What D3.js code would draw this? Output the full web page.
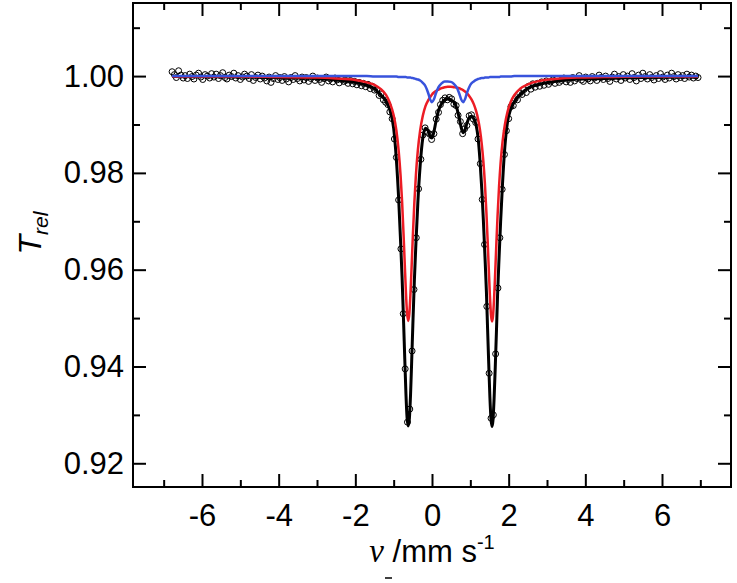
<!DOCTYPE html>
<html>
<head>
<meta charset="utf-8">
<script src="https://cdn.jsdelivr.net/npm/d3@7"></script>
<style>
  body { margin: 0; background: #fff; }
  text { font-family: "Liberation Sans", Arial, sans-serif; fill: #000; }
</style>
</head>
<body>
<div id="chart-area"></div>
<script>
// measured spectrum: velocity (mm/s) and relative transmission
var velocity = [
  -6.78,-6.72,-6.67,-6.61,-6.55,-6.49,-6.44,-6.38,-6.32,-6.26,
  -6.21,-6.15,-6.09,-6.03,-5.98,-5.92,-5.86,-5.80,-5.75,-5.69,
  -5.63,-5.57,-5.52,-5.46,-5.40,-5.35,-5.29,-5.23,-5.17,-5.12,
  -5.06,-5.00,-4.94,-4.89,-4.83,-4.77,-4.71,-4.66,-4.60,-4.54,
  -4.48,-4.43,-4.37,-4.31,-4.25,-4.20,-4.14,-4.08,-4.02,-3.97,
  -3.91,-3.85,-3.80,-3.74,-3.68,-3.62,-3.57,-3.51,-3.45,-3.39,
  -3.34,-3.28,-3.22,-3.16,-3.11,-3.05,-2.99,-2.93,-2.88,-2.82,
  -2.76,-2.70,-2.65,-2.59,-2.53,-2.48,-2.42,-2.36,-2.30,-2.25,
  -2.19,-2.13,-2.07,-2.02,-1.96,-1.90,-1.84,-1.79,-1.73,-1.67,
  -1.61,-1.56,-1.50,-1.44,-1.38,-1.33,-1.27,-1.21,-1.15,-1.10,
  -1.04,-0.98,-0.93,-0.87,-0.81,-0.75,-0.70,-0.64,-0.58,-0.52,
  -0.47,-0.41,-0.35,-0.29,-0.24,-0.18,-0.12,-0.06,-0.01,0.05,
  0.11,0.17,0.22,0.28,0.34,0.40,0.45,0.51,0.57,0.63,
  0.68,0.74,0.80,0.85,0.91,0.97,1.03,1.08,1.14,1.20,
  1.26,1.31,1.37,1.43,1.49,1.54,1.60,1.66,1.72,1.77,
  1.83,1.89,1.94,2.00,2.06,2.12,2.17,2.23,2.29,2.35,
  2.40,2.46,2.52,2.58,2.63,2.69,2.75,2.81,2.86,2.92,
  2.98,3.04,3.09,3.15,3.21,3.27,3.32,3.38,3.44,3.50,
  3.55,3.61,3.67,3.72,3.78,3.84,3.90,3.95,4.01,4.07,
  4.13,4.18,4.24,4.30,4.36,4.41,4.47,4.53,4.59,4.64,
  4.70,4.76,4.81,4.87,4.93,4.99,5.04,5.10,5.16,5.22,
  5.27,5.33,5.39,5.45,5.50,5.56,5.62,5.68,5.73,5.79,
  5.85,5.91,5.96,6.02,6.08,6.14,6.19,6.25,6.31,6.37,
  6.42,6.48,6.54,6.59,6.65,6.71,6.77,6.82,6.88,6.94
];
var transmission = [
  1.0009,1.0003,0.9997,1.0011,1.0002,0.9996,1.0001,0.9995,1.0004,0.9999,
  0.9994,1.0002,1.0006,0.9998,0.9993,1.0003,1.0000,0.9996,1.0005,0.9998,
  1.0004,0.9995,1.0001,1.0007,0.9997,0.9994,1.0002,0.9999,1.0006,0.9996,
  1.0001,0.9993,0.9998,1.0004,1.0000,0.9995,1.0003,0.9991,0.9997,1.0002,
  0.9994,1.0000,0.9996,0.9990,0.9998,0.9987,0.9995,1.0001,0.9993,0.9997,
  0.9991,0.9999,0.9994,0.9988,0.9997,0.9993,1.0001,0.9995,0.9990,0.9998,
  0.9992,0.9997,0.9989,0.9995,1.0000,0.9991,0.9996,0.9993,0.9987,0.9995,
  0.9998,0.9990,0.9994,0.9988,0.9996,0.9992,0.9986,0.9993,0.9989,0.9991,
  0.9985,0.9991,0.9984,0.9989,0.9982,0.9987,0.9980,0.9985,0.9978,0.9983,
  0.9974,0.9979,0.9971,0.9972,0.9960,0.9963,0.9951,0.9946,0.9941,0.9926,
  0.9912,0.9870,0.9832,0.9744,0.9643,0.9509,0.9395,0.9285,0.9312,0.9432,
  0.9559,0.9666,0.9767,0.9828,0.9878,0.9893,0.9884,0.9880,0.9869,0.9881,
  0.9911,0.9925,0.9941,0.9950,0.9955,0.9951,0.9956,0.9953,0.9942,0.9939,
  0.9919,0.9906,0.9881,0.9891,0.9898,0.9918,0.9920,0.9911,0.9904,0.9870,
  0.9819,0.9745,0.9652,0.9524,0.9386,0.9293,0.9300,0.9426,0.9562,0.9666,
  0.9766,0.9838,0.9887,0.9912,0.9937,0.9939,0.9953,0.9951,0.9964,0.9962,
  0.9972,0.9966,0.9979,0.9973,0.9984,0.9977,0.9985,0.9979,0.9988,0.9981,
  0.9990,0.9983,0.9988,0.9992,0.9985,0.9994,0.9987,0.9991,0.9996,0.9988,
  0.9993,0.9987,0.9997,0.9990,0.9995,1.0001,0.9992,0.9989,0.9998,0.9994,
  0.9990,0.9999,0.9996,0.9991,1.0002,0.9997,0.9993,1.0000,0.9995,0.9989,
  0.9998,1.0004,0.9994,0.9999,0.9991,1.0003,0.9996,1.0000,0.9993,1.0005,
  0.9997,0.9990,1.0002,0.9995,1.0006,0.9999,0.9994,1.0003,0.9997,0.9992,
  1.0001,0.9995,1.0005,0.9998,0.9993,1.0002,0.9996,1.0006,0.9999,0.9994,
  1.0003,0.9997,1.0001,0.9995,1.0004,0.9998,1.0002,0.9996,1.0000,0.9997
];

var fitVelocity = [
  -6.78,-5,-4,-3,-2.5,-2,-1.7,-1.5,-1.35,-1.2,
  -1.1,-1.0,-0.93,-0.87,-0.82,-0.78,-0.74,-0.71,-0.68,-0.65,
  -0.62,-0.59,-0.56,-0.53,-0.5,-0.46,-0.42,-0.37,-0.31,-0.24,
  -0.17,-0.1,-0.05,0,0.05,0.1,0.17,0.25,0.33,0.41,
  0.49,0.57,0.65,0.71,0.76,0.81,0.86,0.91,0.97,1.03,
  1.09,1.15,1.2,1.25,1.3,1.34,1.38,1.42,1.45,1.48,
  1.51,1.54,1.567,1.59,1.62,1.65,1.68,1.71,1.75,1.79,
  1.84,1.9,1.97,2.05,2.15,2.3,2.5,2.8,3.2,3.8,
  4.5,5.5,6.94
];
var fitTotal = [
  0.9999,0.9998,0.9997,0.9995,0.9992,0.9987,0.9981,0.9974,0.9962,0.9948,
  0.9930,0.9892,0.9828,0.9747,0.9659,0.9583,0.9489,0.9415,0.9344,0.9294,
  0.9277,0.9292,0.9341,0.9411,0.9485,0.9578,0.9653,0.9737,0.9814,0.9872,
  0.9892,0.9887,0.9875,0.9872,0.9885,0.9905,0.9929,0.9943,0.9951,0.9953,
  0.9951,0.9946,0.9933,0.9913,0.9894,0.9883,0.9889,0.9902,0.9914,0.9917,
  0.9912,0.9899,0.9874,0.9828,0.9765,0.9702,0.9630,0.9553,0.9478,0.9406,
  0.9337,0.9290,0.9276,0.9288,0.9334,0.9398,0.9470,0.9546,0.9626,0.9699,
  0.9778,0.9853,0.9905,0.9931,0.9947,0.9962,0.9975,0.9983,0.9989,0.9994,
  0.9995,0.9997,0.9998
];
var fitDoublet1 = [
  0.9999,0.9999,0.9998,0.9997,0.9995,0.9992,0.9987,0.9982,0.9974,0.9961,
  0.9945,0.9919,0.9888,0.9846,0.9795,0.9740,0.9669,0.9610,0.9553,0.9510,
  0.9494,0.9510,0.9553,0.9610,0.9669,0.9739,0.9795,0.9846,0.9887,0.9918,
  0.9938,0.9950,0.9956,0.9962,0.9966,0.9969,0.9972,0.9975,0.9977,0.9978,
  0.9978,0.9977,0.9976,0.9975,0.9973,0.9971,0.9968,0.9965,0.9959,0.9952,
  0.9942,0.9928,0.9912,0.9890,0.9858,0.9824,0.9778,0.9717,0.9663,0.9604,
  0.9547,0.9506,0.9493,0.9503,0.9541,0.9596,0.9656,0.9711,0.9773,0.9821,
  0.9864,0.9899,0.9926,0.9946,0.9961,0.9974,0.9983,0.9990,0.9994,0.9997,
  0.9998,0.9999,0.9999
];
var fitDoublet2 = [
  1.0000,1.0000,1.0000,1.0000,1.0000,1.0000,1.0000,0.9999,0.9999,0.9999,
  0.9999,0.9999,0.9999,0.9998,0.9998,0.9998,0.9998,0.9998,0.9998,0.9997,
  0.9997,0.9997,0.9997,0.9996,0.9996,0.9995,0.9994,0.9993,0.9991,0.9986,
  0.9979,0.9965,0.9952,0.9946,0.9952,0.9964,0.9977,0.9985,0.9989,0.9989,
  0.9988,0.9984,0.9976,0.9964,0.9952,0.9946,0.9952,0.9965,0.9977,0.9985,
  0.9989,0.9992,0.9994,0.9995,0.9996,0.9996,0.9997,0.9997,0.9997,0.9997,
  0.9998,0.9998,0.9998,0.9998,0.9998,0.9998,0.9998,0.9998,0.9998,0.9999,
  0.9999,0.9999,0.9999,0.9999,1.0000,1.0000,1.0000,1.0000,1.0000,1.0000,
  1.0000,1.0000,1.0000
];

var xTicks = [-6, -4, -2, 0, 2, 4, 6];
var xMinorTicks = [-7, -5, -3, -1, 1, 3, 5, 7];
var yTicks = [0.92, 0.94, 0.96, 0.98, 1.00];
var yMinorTicks = [0.93, 0.95, 0.97, 0.99, 1.01];

var margin = { left: 133, right: 6, top: 3, bottom: 96 };
var width = 737 - margin.left - margin.right;
var height = 583 - margin.top - margin.bottom;

var svg = d3.select("#chart-area")
  .append("svg")
    .attr("width", 737)
    .attr("height", 583);

var g = svg.append("g")
    .attr("transform", "translate(" + margin.left + "," + margin.top + ")");

var x = d3.scaleLinear()
    .domain([-7.8, 7.8])
    .range([0, width]);
var y = d3.scaleLinear()
    .domain([0.9151, 1.0151])
    .range([height, 0]);

// axes, ticks pointing inwards on all four sides
function styleAxis(sel) {
  sel.select(".domain").remove();
  sel.selectAll(".tick line").attr("stroke", "#000").attr("stroke-width", 2);
  sel.selectAll("text").attr("font-size", "31px").attr("font-family", "Liberation Sans, Arial, sans-serif");
}

g.append("g")
    .attr("transform", "translate(0," + height + ")")
    .call(d3.axisBottom(x).tickValues(xTicks).tickSize(-13).tickPadding(17)
      .tickFormat(function(d){ return String(d); }))
    .call(styleAxis);
g.append("g")
    .attr("transform", "translate(0," + height + ")")
    .call(d3.axisBottom(x).tickValues(xMinorTicks).tickSize(-7).tickFormat(""))
    .call(styleAxis);
g.append("g")
    .call(d3.axisTop(x).tickValues(xTicks).tickSize(-13).tickFormat(""))
    .call(styleAxis);
g.append("g")
    .call(d3.axisTop(x).tickValues(xMinorTicks).tickSize(-7).tickFormat(""))
    .call(styleAxis);

g.append("g")
    .call(d3.axisLeft(y).tickValues(yTicks).tickSize(-13).tickPadding(9)
      .tickFormat(d3.format(".2f")))
    .call(styleAxis);
g.append("g")
    .call(d3.axisLeft(y).tickValues(yMinorTicks).tickSize(-7).tickFormat(""))
    .call(styleAxis);
g.append("g")
    .attr("transform", "translate(" + width + ",0)")
    .call(d3.axisRight(y).tickValues(yTicks).tickSize(-13).tickFormat(""))
    .call(styleAxis);
g.append("g")
    .attr("transform", "translate(" + width + ",0)")
    .call(d3.axisRight(y).tickValues(yMinorTicks).tickSize(-7).tickFormat(""))
    .call(styleAxis);

g.append("rect")
    .attr("width", width)
    .attr("height", height)
    .attr("fill", "none")
    .attr("stroke", "#000")
    .attr("stroke-width", 2);

// data points
var points = velocity.map(function(v, i){ return { v: v, t: transmission[i] }; });
g.selectAll("circle").data(points)
  .enter()
  .append("circle")
    .attr("cx", function(d){ return x(d.v); })
    .attr("cy", function(d){ return y(d.t); })
    .attr("r", 3)
    .attr("fill", "none")
    .attr("stroke", "#000")
    .attr("stroke-width", 1);

// fit curves
var line = d3.line()
    .x(function(d){ return x(d[0]); })
    .y(function(d){ return y(d[1]); })
    .curve(d3.curveMonotoneX);

var curves = [
  { values: fitTotal, color: "#000000", w: 3 },
  { values: fitDoublet1, color: "#ec1c24", w: 2.5 },
  { values: fitDoublet2, color: "#3853dc", w: 2.5 }
];
curves.forEach(function(c){
  g.append("path")
    .datum(fitVelocity.map(function(v, i){ return [v, c.values[i]]; }))
    .attr("d", line)
    .attr("fill", "none")
    .attr("stroke", c.color)
    .attr("stroke-width", c.w)
    .attr("stroke-linejoin", "round");
});

// axis titles
var xTitle = svg.append("text")
    .attr("x", margin.left + width / 2)
    .attr("y", 562)
    .attr("text-anchor", "middle")
    .attr("font-size", "31px");
xTitle.append("tspan")
    .attr("font-family", "Liberation Serif, Times New Roman, serif")
    .attr("font-style", "italic")
    .attr("font-size", "33px")
    .text("ν");
xTitle.append("tspan").text(" /mm s");
xTitle.append("tspan")
    .attr("font-size", "20px")
    .attr("dy", "-13")
    .text("-1");

var yTitle = svg.append("text")
    .attr("transform", "translate(41,233) rotate(-90)")
    .attr("text-anchor", "middle")
    .attr("font-style", "italic")
    .attr("font-size", "32px");
yTitle.append("tspan").text("T");
yTitle.append("tspan")
    .attr("font-size", "21px")
    .attr("dy", "7")
    .text("rel");

// small stray mark below the x title
svg.append("line")
    .attr("x1", 385).attr("x2", 392)
    .attr("y1", 578).attr("y2", 578)
    .attr("stroke", "#000")
    .attr("stroke-width", 1.5);
</script>
</body>
</html>
